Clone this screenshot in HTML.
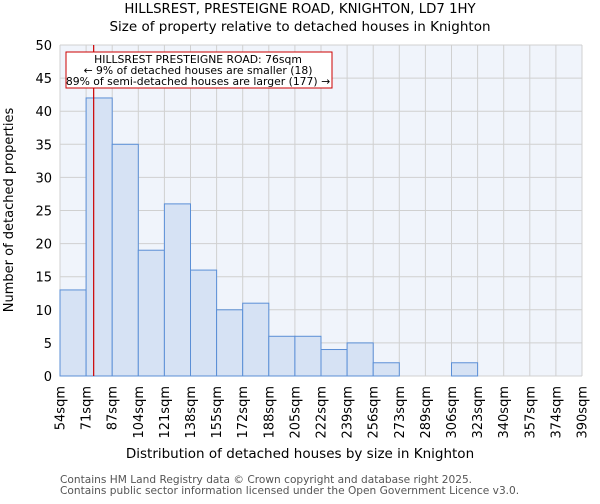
<!DOCTYPE html>
<html><head><meta charset="utf-8"><style>
body{margin:0;background:#fff;font-family:"DejaVu Sans","Liberation Sans",sans-serif;}
svg text{font-family:"DejaVu Sans","Liberation Sans",sans-serif;}
</style></head><body>
<svg id="c" width="600" height="500" xmlns="http://www.w3.org/2000/svg">
<text x="300" y="13" text-anchor="middle" font-size="13.3">HILLSREST, PRESTEIGNE ROAD, KNIGHTON, LD7 1HY</text>
<text x="300" y="31" text-anchor="middle" font-size="13.5">Size of property relative to detached houses in Knighton</text>
<g id="plot"></g>
<text x="300" y="458" text-anchor="middle" font-size="13.5">Distribution of detached houses by size in Knighton</text>
<text transform="translate(13,210) rotate(-90)" text-anchor="middle" font-size="13">Number of detached properties</text>
<text x="60" y="483" font-size="10.6" fill="#555">Contains HM Land Registry data © Crown copyright and database right 2025.</text>
<text x="60" y="494" font-size="10.6" fill="#555">Contains public sector information licensed under the Open Government Licence v3.0.</text>
</svg>
<script>
const binEdges=["54sqm","71sqm","87sqm","104sqm","121sqm","138sqm","155sqm","172sqm","188sqm","205sqm","222sqm","239sqm","256sqm","273sqm","289sqm","306sqm","323sqm","340sqm","357sqm","374sqm","390sqm"];
const counts=[13,42,35,19,26,16,10,11,6,6,4,5,2,0,0,2,0,0,0,0];
const yTicks=[0,5,10,15,20,25,30,35,40,45,50];
const propertyBinPos=1.29;
const NS="http://www.w3.org/2000/svg";
const L=60,R=582,T=45,B=376,yMax=50;
const n=counts.length;
const x=i=>L+(R-L)*i/n;
const y=v=>B-(B-T)*v/yMax;
const g=document.getElementById('plot');
function mk(t,a){const e=document.createElementNS(NS,t);for(const k in a)e.setAttribute(k,a[k]);g.appendChild(e);return e;}
let e=mk('rect',{x:L,y:T,width:R-L,height:B-T,fill:'#f0f4fb'});


yTicks.forEach(v=>{
 let l=mk('line',{x1:L,x2:R,y1:y(v),y2:y(v),stroke:'#d0d0d0','stroke-width':1});
 
 
 let t=mk('text',{x:L-8,y:y(v)+5,'text-anchor':'end','font-size':13});
 t.textContent=v;
 
 
});
binEdges.forEach((lab,i)=>{
 let l=mk('line',{x1:x(i),x2:x(i),y1:T,y2:B,stroke:'#d0d0d0','stroke-width':1});
 
 
 let t=mk('text',{transform:`translate(${x(i)+4.5},${B+10}) rotate(-90)`,'text-anchor':'end','font-size':13});
 t.textContent=lab;
 
 
});
counts.forEach((v,i)=>{
 if(v<=0)return;
 let r=mk('rect',{x:x(i),y:y(v),width:x(i+1)-x(i),height:B-y(v),fill:'#d6e2f4',stroke:'#5b8fd6','stroke-width':1});
 
 
});
let pl=mk('line',{x1:x(propertyBinPos),x2:x(propertyBinPos),y1:T,y2:B,stroke:'#cc0000','stroke-width':1.2});


let bx=mk('rect',{x:66,y:52,width:266,height:36,fill:'#fff',stroke:'#cc0000','stroke-width':1});


["HILLSREST PRESTEIGNE ROAD: 76sqm","← 9% of detached houses are smaller (18)","89% of semi-detached houses are larger (177) →"].forEach((s,k)=>{
 let t=mk('text',{x:198,y:63+k*11,'text-anchor':'middle','font-size':10.8});
 t.textContent=s;
 
 
});
</script>
</body></html>
